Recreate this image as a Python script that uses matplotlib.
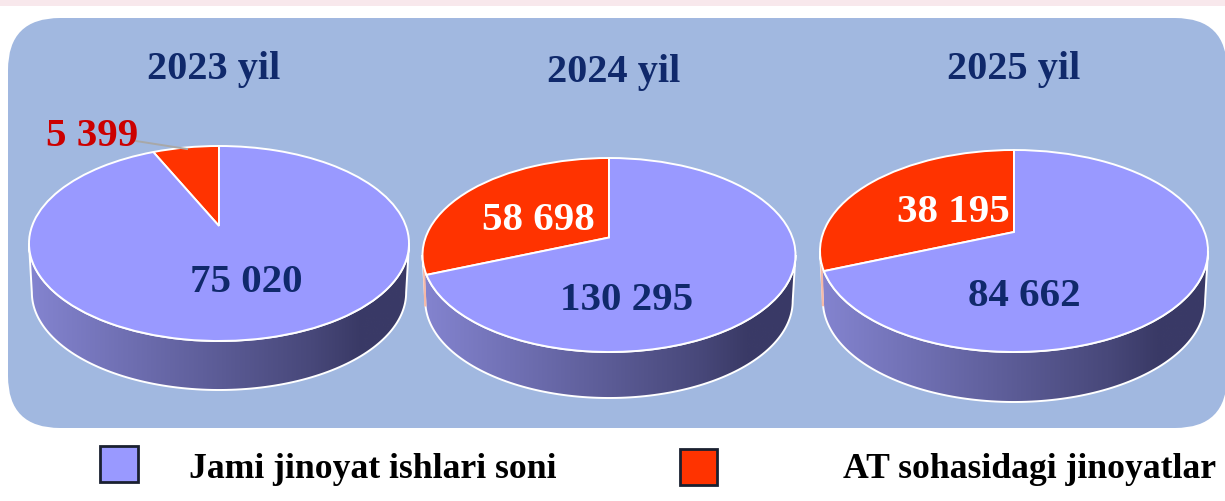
import matplotlib
matplotlib.use('Agg')
import matplotlib.pyplot as plt
import numpy as np
from matplotlib.patches import FancyBboxPatch, Polygon, Rectangle
from matplotlib.transforms import Transform

years = ['2023 yil', '2024 yil', '2025 yil']
total_cases = [75020, 130295, 84662]
at_cases = [5399, 58698, 38195]
total_labels = ['75 020', '130 295', '84 662']
at_labels = ['5 399', '58 698', '38 195']
legend_labels = ['Jami jinoyat ishlari soni', 'AT sohasidagi jinoyatlar']

W, H = 1225, 501
BLUE = '#9999ff'
RED = '#ff3300'
PANEL = '#a1b8e0'
NAVY = '#10296b'

# ellipse geometry in pixels: cx, cy, rx, ry, wall depth, perspective shift
pies = [
    (219, 243.5, 190, 97.5, 49, 0.18),
    (609, 255, 186.5, 97, 46, 0.18),
    (1014, 251, 194, 101, 50, 0.188),
]
title_pos = [(214, 69), (614, 72), (1014, 69)]
total_pos = [(246, 283), (627, 301), (1024, 297)]
at_pos = [(92, 137), (538, 220), (953, 213)]
at_color = ['#cc0000', 'white', 'white']


class Tilt(Transform):
    # unit circle seen in perspective, the centre moves up but the rim stays on the unit ellipse
    input_dims = output_dims = 2
    is_affine = False
    has_inverse = False

    def __init__(self, g):
        super().__init__()
        self.g = g

    def transform_non_affine(self, xy):
        xy = np.asarray(xy)
        w = 1 + self.g * xy[:, 1]
        s = np.sqrt(1 - self.g ** 2)
        return np.column_stack([s * xy[:, 0] / w, (xy[:, 1] + self.g) / w])


plt.rcParams['font.family'] = ['Liberation Serif', 'DejaVu Serif']
plt.rcParams['font.weight'] = 'bold'
fig = plt.figure(figsize=(W / 100, H / 100), dpi=100, facecolor='white')

back = fig.add_axes([0, 0, 1, 1])
back.set_xlim(0, W), back.set_ylim(H, 0), back.axis('off')
back.add_patch(Rectangle((0, 0), W, 5.5, color='#f8e8ec', lw=0))
back.add_patch(FancyBboxPatch((8, 18), 1219, 410, boxstyle='round,pad=0,rounding_size=52',
                              fc=PANEL, ec='none'))

# left to right shading of the side wall
shade = np.interp(np.linspace(0, 1, 256), [0, 0.75, 0.87, 1], [0, 0.82, 1, 1])
c1, c2 = np.array([0x84, 0x84, 0xd0]) / 255, np.array([0x3a, 0x3a, 0x66]) / 255
grad = (c1[None, :] + shade[:, None] * (c2 - c1))[None, :, :]

for i, (cx, cy, rx, ry, depth, g) in enumerate(pies):
    d = depth / ry
    ybot = -1 - d - 0.15
    ax = fig.add_axes([(cx - 1.25 * rx) / W, 1 - (cy + (-ybot) * ry) / H,
                       2.5 * rx / W, (1.25 - ybot) * ry / H], zorder=1)
    wedges, _ = ax.pie([at_cases[i], total_cases[i]], colors=[RED, BLUE], startangle=90,
                       wedgeprops=dict(edgecolor='white', linewidth=1.4))
    tilt = Tilt(g) + ax.transData
    for w in wedges:
        w.set_transform(tilt)
        w.set_zorder(4)

    t = np.linspace(np.pi, 2 * np.pi, 120)
    top = np.column_stack([np.cos(t), np.sin(t)])
    bottom = np.column_stack([0.985 * np.cos(t), np.sin(t) - d])[::-1]
    wall = Polygon(np.vstack([top, bottom]), closed=True, fc='none', ec='white', lw=1.4,
                   transform=ax.transData, zorder=3)
    ax.add_patch(wall)
    img = ax.imshow(grad, extent=(-1, 1, -1 - d, 0), aspect='auto', zorder=2)
    img.set_clip_path(wall)

    # thin strip of the red slice wall on the far left
    if at_cases[i] / (at_cases[i] + total_cases[i]) > 0.2:
        ax.plot([-0.992, -0.985], [-0.14, -0.14 - 0.8 * d], color='#f6b9a6', lw=1.6, zorder=3.5)

    ax.set_aspect('auto')
    ax.set_xlim(-1.25, 1.25)
    ax.set_ylim(ybot, 1.25)

over = fig.add_axes([0, 0, 1, 1], zorder=5)
over.set_xlim(0, W), over.set_ylim(H, 0), over.axis('off')

for i in range(3):
    over.text(*title_pos[i], years[i], color=NAVY, fontsize=29, ha='center', va='center')
    over.text(*total_pos[i], total_labels[i], color=NAVY, fontsize=29.5, ha='center', va='center')
    over.text(*at_pos[i], at_labels[i], color=at_color[i], fontsize=29.5, ha='center', va='center')
over.plot([136, 187], [141, 149], color='#a8a8a8', lw=1.4)

over.add_patch(Rectangle((100, 446), 38, 36, fc=BLUE, ec='#1a2030', lw=2))
over.add_patch(Rectangle((680, 449), 37, 36, fc=RED, ec='#1a2030', lw=2))
over.text(189, 469, legend_labels[0], color='black', fontsize=25.7, ha='left', va='center')
over.text(843, 469, legend_labels[1], color='black', fontsize=25.7, ha='left', va='center')

fig.savefig('out.png', dpi=100)
